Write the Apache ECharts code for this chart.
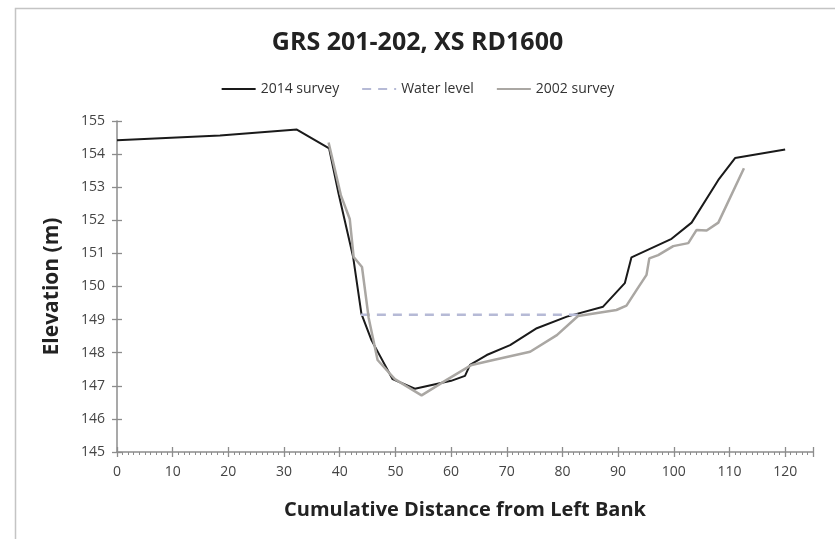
<!DOCTYPE html>
<html>
<head>
<meta charset="utf-8">
<script src="https://cdn.jsdelivr.net/npm/echarts@6/dist/echarts.min.js"></script>
<style>
  html, body { margin: 0; padding: 0; background: #fff; }
  #chart { width: 835px; height: 539px; }
</style>
</head>
<body>
<div id="chart"></div>
<script>
// distance (m) / elevation (m) pairs
const survey2014 = [
  [0, 154.42], [18.5, 154.56], [32.3, 154.74], [38.1, 154.17],
  [39.8, 152.8], [42.4, 150.9], [43.9, 149.17], [45.7, 148.38],
  [49.5, 147.2], [53.5, 146.91], [60.0, 147.15], [62.5, 147.3],
  [63.4, 147.63], [66.4, 147.93], [70.6, 148.23], [75.4, 148.74],
  [80.8, 149.09], [87.3, 149.39], [91.2, 150.1], [92.4, 150.88],
  [99.6, 151.44], [103.2, 151.93], [108.0, 153.22], [111.0, 153.88],
  [120.0, 154.14]
];
const survey2002 = [
  [38.0, 154.35], [40.2, 152.76], [41.8, 152.04], [42.5, 150.89],
  [44.0, 150.59], [45.2, 149.05], [46.8, 147.78], [49.9, 147.2],
  [54.7, 146.71], [59.2, 147.18], [63.7, 147.63], [67.6, 147.78],
  [74.2, 148.03], [79.0, 148.53], [82.8, 149.11], [89.7, 149.29],
  [91.5, 149.42], [93.3, 149.89], [95.1, 150.35], [95.6, 150.85],
  [97.2, 150.95], [99.9, 151.22], [102.6, 151.31], [104.1, 151.71],
  [105.9, 151.69], [108.0, 151.93], [112.6, 153.57]
];
const waterLevel = [[43.8, 149.15], [82.8, 149.15]];
const seriesNames = ['2014 survey', 'Water level', '2002 survey'];

const axisGray = '#8c8c8c';
const font = '"Open Sans", "DejaVu Sans", sans-serif';

const chart = echarts.init(document.getElementById('chart'));

chart.setOption({
  animation: false,
  backgroundColor: '#ffffff',
  title: {
    text: 'GRS 201-202, XS RD1600',
    left: 'center',
    top: 25,
    textStyle: { fontFamily: font, fontSize: 25, fontWeight: 'bold', color: '#222' }
  },
  legend: {
    data: seriesNames,
    top: 77,
    left: 'center',
    itemWidth: 34,
    itemHeight: 10,
    itemGap: 22,
    itemStyle: { opacity: 0 },
    textStyle: { fontFamily: font, fontSize: 14, color: '#333' }
  },
  graphic: [{
    type: 'rect',
    shape: { x: 15.5, y: 8.5, width: 900, height: 700 },
    style: { fill: 'none', stroke: '#c4c4c4', lineWidth: 1.5 },
    silent: true
  }],
  grid: { left: 117, right: 22, top: 121, bottom: 87 },
  xAxis: [{
    type: 'value',
    min: 0, max: 125, interval: 10,
    name: 'Cumulative Distance from Left Bank',
    nameLocation: 'middle',
    nameGap: 48,
    nameTextStyle: { fontFamily: font, fontSize: 20, fontWeight: 'bold', color: '#222' },
    axisLine: { lineStyle: { color: axisGray, width: 1.5 } },
    axisTick: { show: true, length: 5, lineStyle: { color: axisGray, width: 1.3 } },
    minorTick: { show: true, splitNumber: 10, length: 3, lineStyle: { color: axisGray } },
    axisLabel: { showMaxLabel: false, margin: 13, fontFamily: font, fontSize: 14, color: '#444' },
    splitLine: { show: false }
  }, {
    type: 'value',
    position: 'bottom',
    min: 0, max: 125, interval: 10,
    axisLine: { show: false },
    axisTick: { show: true, inside: true, length: 5, lineStyle: { color: axisGray, width: 1.3 } },
    axisLabel: { show: false },
    splitLine: { show: false }
  }],
  yAxis: [{
    type: 'value',
    min: 145, max: 155, interval: 1,
    name: 'Elevation (m)',
    nameLocation: 'middle',
    nameGap: 54,
    nameTextStyle: { fontFamily: font, fontSize: 21, fontWeight: 'bold', color: '#222' },
    axisLine: { show: true, lineStyle: { color: axisGray, width: 1.5 } },
    axisTick: { show: true, length: 5, lineStyle: { color: axisGray, width: 1.3 } },
    axisLabel: { margin: 12, fontFamily: font, fontSize: 14, color: '#444' },
    splitLine: { show: false }
  }, {
    type: 'value',
    position: 'left',
    min: 145, max: 155, interval: 1,
    axisLine: { show: false },
    axisTick: { show: true, inside: true, length: 5, lineStyle: { color: axisGray, width: 1.3 } },
    axisLabel: { show: false },
    splitLine: { show: false }
  }],
  series: [{
    name: seriesNames[0],
    type: 'line',
    data: survey2014,
    symbol: 'none',
    color: '#1a1a1a',
    lineStyle: { color: '#1a1a1a', width: 2 }
  }, {
    name: seriesNames[1],
    type: 'line',
    data: waterLevel,
    symbol: 'none',
    color: '#b6bad6',
    lineStyle: { color: '#b6bad6', width: 2.5, type: [9, 7] }
  }, {
    name: seriesNames[2],
    type: 'line',
    data: survey2002,
    symbol: 'none',
    color: '#aaa7a3',
    lineStyle: { color: '#aaa7a3', width: 2.5 }
  }]
});
</script>
</body>
</html>
